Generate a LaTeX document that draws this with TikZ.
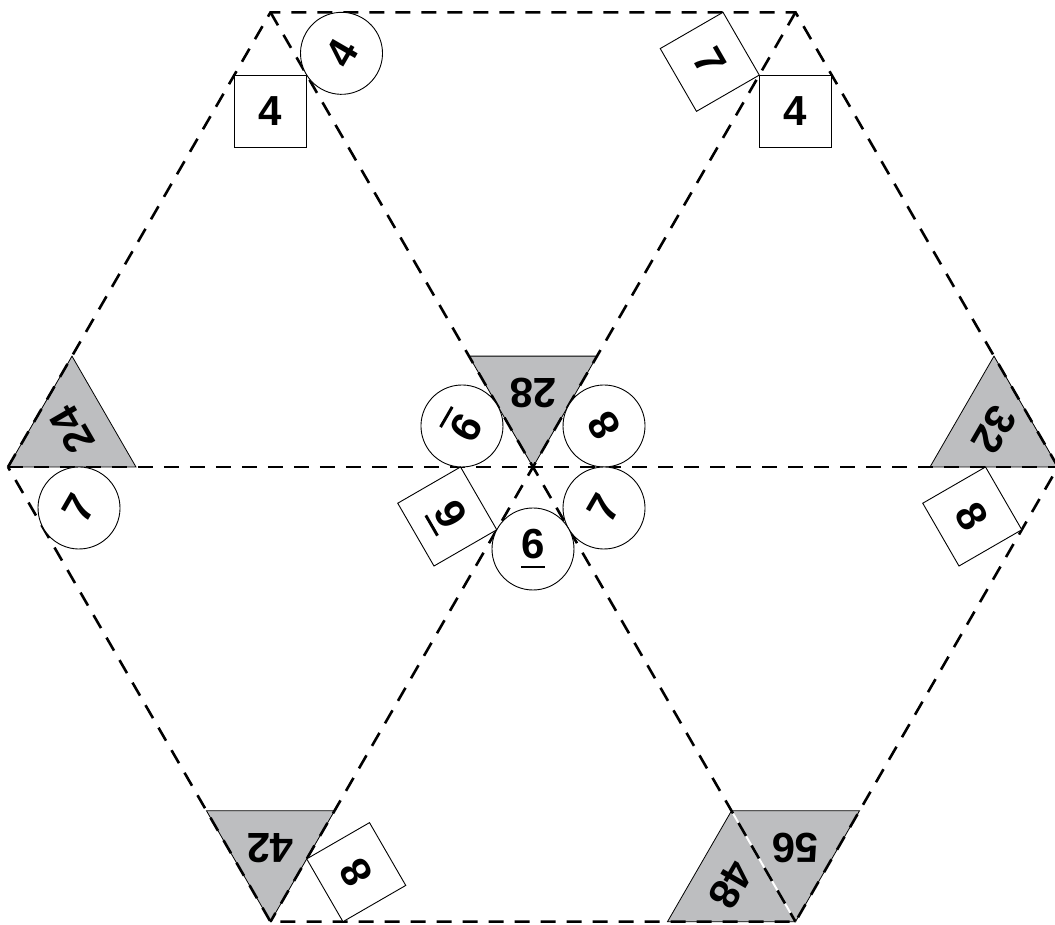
\documentclass[tikz,border=0pt]{standalone}
\usepackage{fontspec}
\setmainfont{Liberation Sans}
\usepackage{xcolor}
\definecolor{Shade}{HTML}{BDBEC0}
\colorlet{shade}{Shade}
\usepackage{tikz}
\usetikzlibrary{calc,positioning}
\newcommand{\bardigit}[1]{\vtop{\hbox{#1}\kern0.15em\hrule height0.07em}}

\begin{document}
\begin{tikzpicture}[x=1pt,y=1pt,every node/.style={font=\bfseries\fontsize{42}{42}\selectfont,inner sep=0pt},
  cutline/.style={line width=2.6pt,dash pattern=on 15pt off 11pt},
  numcircle/.style={circle,draw,line width=0.9pt,fill=white,minimum size=82pt},
  numsquare/.style={rectangle,draw,line width=0.9pt,fill=white,minimum size=72.5pt},
  greytri/.style={fill=shade,draw=black,line width=0.8pt}]
\useasboundingbox (-533,-458) rectangle (522,467);
% hexagon corners
\coordinate (C) at (0,0);
\coordinate (L) at (180:525);\coordinate (TL) at (120:525);\coordinate (TR) at (60:525);
\coordinate (R) at (0:525);\coordinate (BR) at (-60:525);\coordinate (BL) at (-120:525);
% grey corners
\filldraw[greytri] (C) -- ++(60:128) -- ++(180:128) -- cycle;
\filldraw[greytri] (L) -- ++(0:128) -- ++(120:128) -- cycle;
\filldraw[greytri] (R) -- ++(120:128) -- ++(240:128) -- cycle;
\filldraw[greytri] (BR) -- ++(60:128) -- ++(180:128) -- cycle;
\filldraw[greytri] (BR) -- ++(120:128) -- ++(240:128) -- cycle;
\filldraw[greytri] (BL) -- ++(60:128) -- ++(180:128) -- cycle;
\draw[white,line width=2pt] (BR) -- ++(120:128);
% cutting lines
\draw[cutline] (L) -- (TL) -- (TR) -- (R) -- (BR) -- (BL) -- cycle;
\draw[cutline] (L) -- (R);\draw[cutline] (TL) -- (BR);\draw[cutline] (TR) -- (BL);
% products
\node[rotate=180] (t28) at ([shift={(90:73.9)}]C) {28};
\node[rotate=120] (t24) at ([shift={(30:73.9)}]L) {24};
\node[rotate=240] (t32) at ([shift={(150:73.9)}]R) {32};
\node[rotate=180] (t56) at ([shift={(90:73.9)}]BR) {56};
\node[rotate=240] (t48) at ([shift={(150:73.9)}]BR) {48};
\node[rotate=180] (t42) at ([shift={(90:73.9)}]BL) {42};
% circles
\node[numcircle,rotate=60] (c4) at ([shift={(-30:82)}]TL) {4};
\node[numcircle,rotate=240] (c9) at ([shift={(150:82)}]C) {\bardigit{9}};
\node[numcircle,rotate=120] (c8) at ([shift={(30:82)}]C) {8};
\node[numcircle,rotate=60] (c7a) at ([shift={(-30:82)}]C) {7};
\node[numcircle] (c6) at ([shift={(-90:82)}]C) {\bardigit{6}};
\node[numcircle,rotate=60] (c7b) at ([shift={(-30:82)}]L) {7};
% squares
\node[numsquare] (s4a) at ([shift={(-90:99)}]TL) {4};
\node[numsquare] (s4b) at ([shift={(-90:99)}]TR) {4};
\node[numsquare,rotate=300] (s7) at ([shift={(210:99)}]TR) {7};
\node[numsquare,rotate=300] (s8a) at ([shift={(210:99)}]R) {8};
\node[numsquare,rotate=120] (s8b) at ([shift={(30:99)}]BL) {8};
\node[numsquare,rotate=300] (s9) at ([shift={(210:99)}]C) {\bardigit{9}};
\end{tikzpicture}
\end{document}
